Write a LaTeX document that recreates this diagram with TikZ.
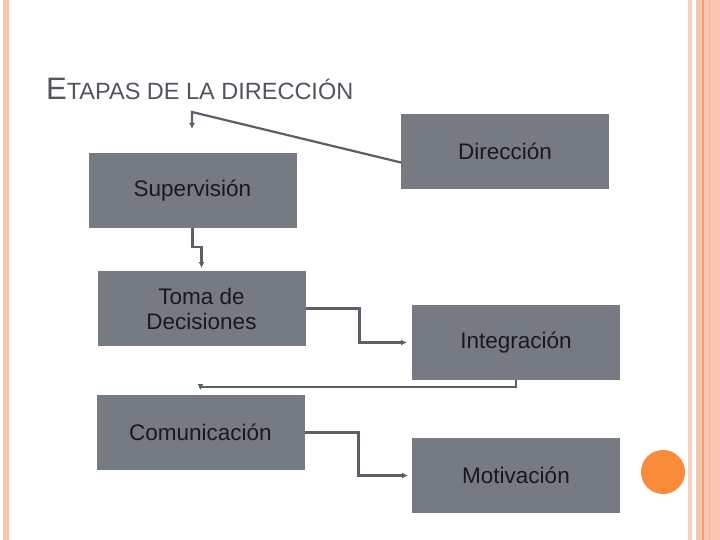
\documentclass[tikz,border=0pt]{standalone}
\usepackage{fontspec}
\setmainfont{Liberation Sans}
\usepackage{tikz}
\usetikzlibrary{positioning,arrows.meta}

\definecolor{cajagris}{RGB}{118,122,131}
\definecolor{lineagris}{RGB}{92,95,104}
\definecolor{titgris}{RGB}{80,84,93}
\definecolor{rosa}{RGB}{248,197,177}
\definecolor{rosaclaro}{RGB}{250,210,192}
\definecolor{rosaosc}{RGB}{238,158,122}
\definecolor{naranja}{RGB}{249,139,58}

\begin{document}
\begin{tikzpicture}[x=1pt,y=-1pt,>=Latex,
  etapa/.style={fill=cajagris,minimum width=208pt,minimum height=75pt,inner sep=0pt,outer sep=0pt,
    font=\fontsize{22.5}{25}\selectfont,align=center,text=black!90},
  conn/.style={draw=lineagris,line width=2.2pt,-{Latex[length=6pt,width=6pt]}}]
  \useasboundingbox (0,0) rectangle (720,540);
  \fill[white] (0,0) rectangle (720,540);

  % bordes
  \fill[rosa] (3,0) rectangle (9,540);
  \fill[rosaclaro] (688,0) rectangle (692,540);
  \fill[rosa] (696,0) rectangle (720,540);
  \fill[rosaosc] (702,0) rectangle (703.5,540);
  \fill[rosaosc!50!rosa] (709,0) rectangle (710,540);
  \fill[naranja] (663,472) circle (22);

  \node[anchor=base west,text=titgris,inner sep=0pt] (titulo) at (46,100)
    {{\fontsize{31}{31}\selectfont E}{\fontsize{23.5}{24}\selectfont TAPAS DE LA DIRECCI\'ON}};

  \node[etapa] (dir) at (505,151.5) {Dirección};
  \node[etapa] (sup) at (192.5,190.5) {Supervisión};
  \node[etapa] (toma) at (201.5,308.5) {Toma de\\Decisiones};
  \node[etapa] (integ) at (516,342.5) {Integración};
  \node[etapa] (com) at (200.5,432.5) {Comunicación};
  \node[etapa] (mot) at (516,475.5) {Motivación};

  \coordinate (tipA) at (192,129);

  \draw[conn] ([yshift=-11pt]dir.west) -- ([yshift=17pt]tipA) -- (tipA);
  \draw[conn] (sup.south) -- ++(0,19) -| ([yshift=3pt]toma.north);
  \draw[conn] (toma.east) -- ++(54,0) |- ([xshift=-5pt]integ.west);
  \draw[conn] (integ.south) -- ++(0,7) -| ([yshift=5pt]com.north);
  \draw[conn] (com.east) -- ++(54,0) |- ([xshift=-4pt]mot.west);
\end{tikzpicture}
\end{document}
